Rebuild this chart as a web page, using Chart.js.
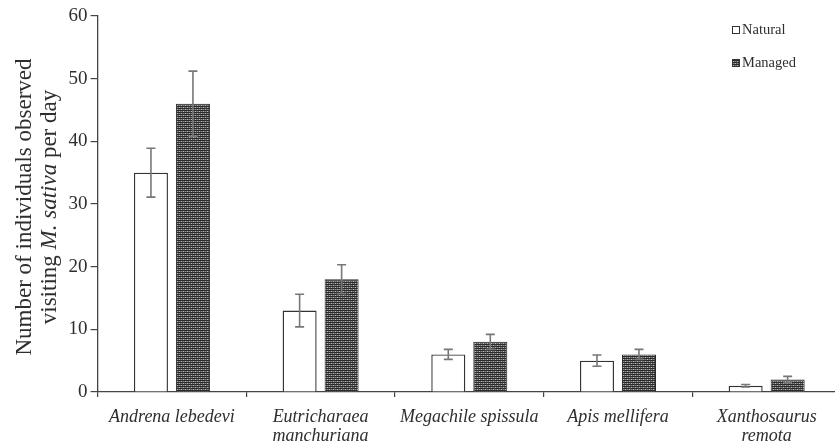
<!DOCTYPE html>
<html>
<head>
<meta charset="utf-8">
<script src="https://cdn.jsdelivr.net/npm/chart.js@4.4.1/dist/chart.umd.min.js"></script>
<style>
  html, body { margin: 0; padding: 0; background: #fff; overflow: hidden; }
  #wrap { width: 841px; height: 446px; }
</style>
</head>
<body>
<div id="wrap"><canvas id="chart" width="841" height="446"></canvas></div>
<script>
// Visitors to M. sativa per day, by pollinator species and field type
const categories = [
  'Andrena lebedevi',
  ['Eutricharaea', 'manchuriana'],
  'Megachile spissula',
  'Apis mellifera',
  ['Xanthosaurus', 'remota']
];
const seriesNames = ['Natural', 'Managed'];
const naturalValues = [35, 13, 6, 5, 1];
const naturalErrors = [3.9, 2.6, 0.8, 0.9, 0.2];
const managedValues = [46, 18, 8, 6, 2];
const managedErrors = [5.2, 2.3, 1.2, 0.8, 0.5];
const yTicks = [0, 10, 20, 30, 40, 50, 60];

const INK = '#2e2e2e';
const SERIF = '"Liberation Serif", "Times New Roman", serif';

// Dense dark checkered fill for the managed bars
function makeCheckPattern() {
  const c = document.createElement('canvas');
  c.width = 4; c.height = 4;
  const g = c.getContext('2d');
  g.fillStyle = '#2a2a2a';
  g.fillRect(0, 0, 4, 4);
  g.fillStyle = '#5c5c5c';
  g.fillRect(0, 1, 4, 1);
  g.fillRect(0, 3, 4, 1);
  g.fillStyle = '#bdbdbd';
  g.fillRect(1, 1, 1, 1);
  g.fillRect(3, 3, 1, 1);
  g.fillStyle = '#8a8a8a';
  g.fillRect(3, 1, 1, 1);
  g.fillRect(1, 3, 1, 1);
  return document.getElementById('chart').getContext('2d').createPattern(c, 'repeat');
}
const checkFill = makeCheckPattern();

// Symmetric error whiskers with caps, drawn through the value scale
const errorBars = {
  id: 'errorBars',
  afterDatasetsDraw(chart) {
    const ctx = chart.ctx;
    const y = chart.scales.y;
    ctx.save();
    ctx.strokeStyle = '#777';
    ctx.lineWidth = 1.6;
    chart.data.datasets.forEach((ds, i) => {
      const meta = chart.getDatasetMeta(i);
      meta.data.forEach((bar, j) => {
        const v = ds.data[j], e = ds.errors[j];
        const top = y.getPixelForValue(v + e);
        const bot = y.getPixelForValue(v - e);
        const x = bar.x;
        ctx.beginPath();
        ctx.moveTo(x, top); ctx.lineTo(x, bot);
        ctx.moveTo(x - 4.5, top); ctx.lineTo(x + 4.5, top);
        ctx.moveTo(x - 4.5, bot); ctx.lineTo(x + 4.5, bot);
        ctx.stroke();
      });
    });
    ctx.restore();
  }
};

// Small legend in the upper right, one entry per row
const cornerLegend = {
  id: 'cornerLegend',
  afterDraw(chart) {
    const ctx = chart.ctx;
    ctx.save();
    ctx.font = '14.5px ' + SERIF;
    ctx.textBaseline = 'middle';
    ctx.textAlign = 'left';
    const rows = [30, 63];
    chart.data.datasets.forEach((ds, i) => {
      const cy = rows[i];
      ctx.fillStyle = ds.backgroundColor;
      ctx.fillRect(732, cy - 4, 8, 8);
      ctx.strokeStyle = '#333';
      ctx.lineWidth = 1;
      ctx.strokeRect(732.5, cy - 3.5, 7, 7);
      ctx.fillStyle = INK;
      ctx.fillText(ds.label, 742, cy);
    });
    ctx.restore();
  }
};

// Two-line rotated value-axis title with the italic species name
const yTitle = {
  id: 'yTitle',
  afterDraw(chart) {
    const ctx = chart.ctx;
    const cy = 207;
    ctx.save();
    ctx.fillStyle = INK;
    ctx.textBaseline = 'middle';
    const roman = '23px ' + SERIF;
    const italic = 'italic 23px ' + SERIF;
    const lines = [
      { x: 25, parts: [['Number of individuals observed', roman]] },
      { x: 50, parts: [['visiting ', roman], ['M. sativa', italic], [' per day', roman]] }
    ];
    lines.forEach(line => {
      let total = 0;
      line.parts.forEach(([t, f]) => { ctx.font = f; total += ctx.measureText(t).width; });
      ctx.save();
      ctx.translate(line.x, cy);
      ctx.rotate(-Math.PI / 2);
      let pos = -total / 2;
      ctx.textAlign = 'left';
      line.parts.forEach(([t, f]) => {
        ctx.font = f;
        ctx.fillText(t, pos, 0);
        pos += ctx.measureText(t).width;
      });
      ctx.restore();
    });
    ctx.restore();
  }
};

new Chart(document.getElementById('chart'), {
  type: 'bar',
  data: {
    labels: categories,
    datasets: [
      {
        label: seriesNames[0],
        data: naturalValues,
        errors: naturalErrors,
        backgroundColor: '#ffffff',
        borderColor: '#333333',
        borderWidth: 1.4
      },
      {
        label: seriesNames[1],
        data: managedValues,
        errors: managedErrors,
        backgroundColor: checkFill,
        borderColor: '#2a2a2a',
        borderWidth: 1
      }
    ]
  },
  options: {
    responsive: false,
    devicePixelRatio: 1,
    animation: false,
    categoryPercentage: 0.565,
    barPercentage: 0.81,
    layout: { padding: { top: 16, left: 0, right: 0, bottom: 0 } },
    plugins: {
      legend: { display: false },
      tooltip: { enabled: false }
    },
    scales: {
      x: {
        offset: true,
        grid: {
          offset: true,
          drawOnChartArea: false,
          drawTicks: true,
          tickLength: 5,
          color: '#444',
          lineWidth: 1.2
        },
        border: { display: true, color: '#444', width: 1.3 },
        ticks: {
          color: INK,
          padding: 10,
          maxRotation: 0,
          autoSkip: false,
          font: { family: SERIF, size: 18, style: 'italic', lineHeight: 1.1 }
        },
        afterFit(scale) { scale.height = 54; }
      },
      y: {
        min: 0,
        max: 60,
        afterBuildTicks(scale) { scale.ticks = yTicks.map(v => ({ value: v })); },
        grid: {
          drawOnChartArea: false,
          drawTicks: true,
          tickLength: 7,
          color: '#444',
          lineWidth: 1.2
        },
        border: { display: true, color: '#444', width: 1.3 },
        ticks: {
          color: INK,
          padding: 3,
          font: { family: SERIF, size: 19 }
        },
        afterFit(scale) { scale.width = 97.6; }
      }
    }
  },
  plugins: [errorBars, cornerLegend, yTitle]
});
</script>
</body>
</html>
